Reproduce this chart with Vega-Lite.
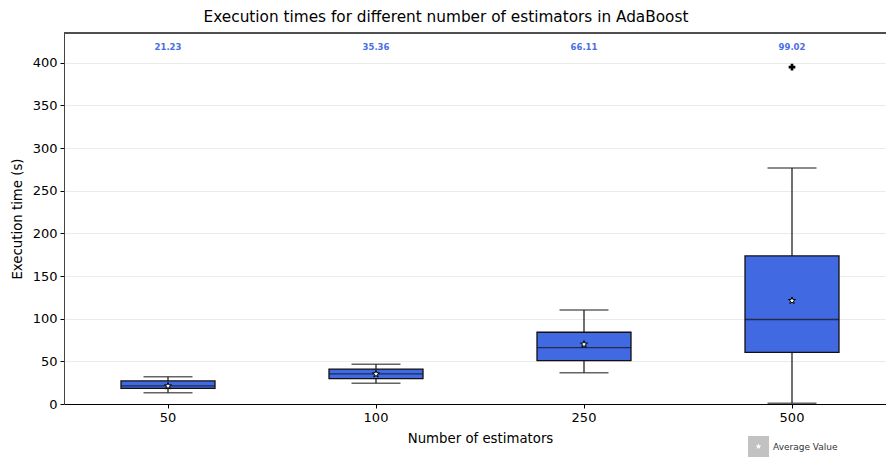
{
  "$schema": "https://vega.github.io/schema/vega-lite/v6.json",
  "width": 822,
  "height": 371,
  "autosize": {"type": "none"},
  "padding": {"left": 64, "top": 33, "right": 0, "bottom": 56},
  "background": "white",
  "config": {
    "font": "DejaVu Sans",
    "view": {"stroke": null},
    "axis": {"labelFont": "DejaVu Sans", "titleFont": "DejaVu Sans", "labelColor": "black", "titleColor": "black", "titleFontWeight": "normal", "labelFontSize": 13, "titleFontSize": 13.3, "domainColor": "black", "tickColor": "black", "tickSize": 4}
  },
  "title": {"text": "Execution times for different number of estimators in AdaBoost", "fontSize": 15.3, "fontWeight": "normal", "font": "DejaVu Sans", "color": "black", "anchor": "middle", "dx": -29, "offset": 7},
  "datasets": {
    "stats": [
      {"estimators": "50", "lower": 13.3, "q1": 18.3, "median": 21.23, "q3": 27.0, "upper": 32.0, "mean": 21.0},
      {"estimators": "100", "lower": 24.2, "q1": 29.7, "median": 35.36, "q3": 41.0, "upper": 46.5, "mean": 35.2},
      {"estimators": "250", "lower": 36.7, "q1": 50.8, "median": 66.11, "q3": 84.1, "upper": 110.3, "mean": 70.0},
      {"estimators": "500", "lower": 0.8, "q1": 60.6, "median": 99.02, "q3": 173.6, "upper": 276.8, "mean": 121.2}
    ],
    "outliers": [
      {"estimators": "500", "time": 395}
    ]
  },
  "data": {"name": "stats"},
  "encoding": {
    "x": {
      "field": "estimators", "type": "ordinal", "sort": ["50", "100", "250", "500"],
      "scale": {"range": [0, 832], "paddingInner": 0, "paddingOuter": 0},
      "axis": {"title": "Number of estimators", "labelAngle": 0, "labelPadding": 3, "titlePadding": 7, "domainWidth": 1.2}
    }
  },
  "layer": [
    {
      "mark": {"type": "rule", "color": "#444", "strokeWidth": 1},
      "encoding": {
        "x": null,
        "y": {"datum": 435, "type": "quantitative", "scale": {"domain": [0, 435], "nice": false},
          "axis": {"title": "Execution time (s)", "values": [0, 50, 100, 150, 200, 250, 300, 350, 400], "grid": true, "gridColor": "#ebebeb", "gridWidth": 1, "domainColor": "#444", "labelPadding": 3, "titlePadding": 8}}
      }
    },
    {
      "mark": {"type": "rule", "color": "#222", "strokeWidth": 1.3},
      "encoding": {
        "y": {"field": "lower", "type": "quantitative"},
        "y2": {"field": "upper"}
      }
    },
    {
      "mark": {"type": "tick", "color": "#222", "size": 49, "thickness": 1.5},
      "encoding": {"y": {"field": "lower", "type": "quantitative"}}
    },
    {
      "mark": {"type": "tick", "color": "#222", "size": 49, "thickness": 1.5},
      "encoding": {"y": {"field": "upper", "type": "quantitative"}}
    },
    {
      "mark": {"type": "bar", "width": 94, "fill": "#4169E1", "stroke": "#111", "strokeWidth": 1.3},
      "encoding": {"y": {"field": "q1", "type": "quantitative"}, "y2": {"field": "q3"}}
    },
    {
      "mark": {"type": "tick", "color": "#111", "size": 94, "thickness": 1.4},
      "encoding": {"y": {"field": "median", "type": "quantitative"}}
    },
    {
      "mark": {"type": "point", "filled": true, "fill": "white", "stroke": "black", "strokeWidth": 1, "size": 55, "opacity": 1,
        "shape": "M0,-1L0.235,-0.324L0.951,-0.309L0.38,0.124L0.588,0.809L0,0.4L-0.588,0.809L-0.38,0.124L-0.951,-0.309L-0.235,-0.324Z"},
      "encoding": {"y": {"field": "mean", "type": "quantitative"}}
    },
    {
      "transform": [{"filter": "false"}],
      "mark": {"type": "point", "filled": true, "opacity": 1, "strokeWidth": 0},
      "encoding": {
        "y": {"field": "mean", "type": "quantitative"},
        "fill": {
          "datum": "Average Value",
          "scale": {"range": ["#c2c2c2"]},
          "legend": {
            "orient": "none", "legendX": 684, "legendY": 403, "title": null, "padding": 0,
            "symbolType": "M-1,-1L1,-1L1,1L-1,1ZM0,-0.3L-0.071,-0.097L-0.285,-0.093L-0.114,0.037L-0.176,0.243L0,0.12L0.176,0.243L0.114,0.037L0.285,-0.093L0.071,-0.097Z",
            "symbolSize": 440, "symbolStrokeWidth": 0, "symbolOpacity": 1,
            "labelFontSize": 9, "labelColor": "#333", "labelFont": "DejaVu Sans", "labelOffset": 4
          }
        }
      }
    },
    {
      "data": {"name": "outliers"},
      "mark": {"type": "point", "shape": "cross", "filled": true, "color": "black", "size": 45, "opacity": 1},
      "encoding": {"y": {"field": "time", "type": "quantitative"}}
    },
    {
      "mark": {"type": "text", "color": "#4a6ee6", "fontWeight": "bold", "fontSize": 8.5, "font": "DejaVu Sans", "baseline": "middle"},
      "encoding": {
        "y": {"datum": 418.6, "type": "quantitative"},
        "text": {"field": "median", "type": "quantitative", "format": ".2f"}
      }
    }
  ]
}
